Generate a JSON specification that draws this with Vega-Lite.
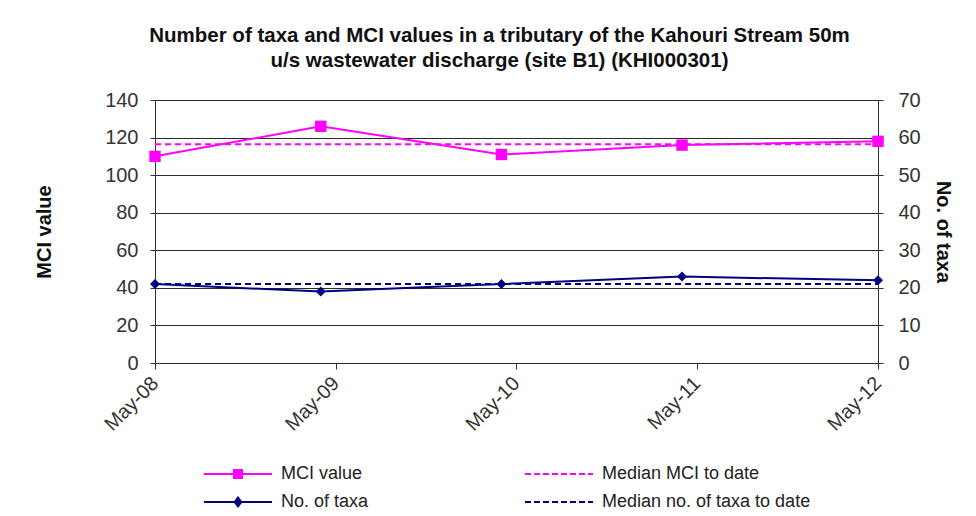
{
  "$schema": "https://vega.github.io/schema/vega-lite/v6.json",
  "autosize": "none",
  "width": 723,
  "height": 263,
  "padding": {"left": 155, "top": 100, "right": 98, "bottom": 153},
  "background": "white",
  "config": {
    "view": {"stroke": null},
    "font": "Liberation Sans",
    "axis": {"labelFont": "Liberation Sans", "titleFont": "Liberation Sans", "labelColor": "#333", "titleColor": "#111", "labelFontSize": 20, "titleFontSize": 20, "titleFontWeight": "bold", "tickColor": "#333", "domainColor": "#333", "tickSize": 5}
  },
  "title": {
    "text": ["Number of taxa and MCI values in a tributary of the Kahouri Stream 50m", "u/s wastewater discharge (site B1) (KHI000301)"],
    "font": "Liberation Sans",
    "fontSize": 20.5,
    "fontWeight": "bold",
    "color": "#111",
    "anchor": "middle",
    "dx": -17,
    "offset": 19,
    "lineHeight": 25
  },
  "data": {
    "values": [
      {"date": "2008/05/01", "series": "MCI value", "group": "MCI", "value": 110},
      {"date": "2009/04/01", "series": "MCI value", "group": "MCI", "value": 126},
      {"date": "2010/04/01", "series": "MCI value", "group": "MCI", "value": 111},
      {"date": "2011/04/01", "series": "MCI value", "group": "MCI", "value": 116},
      {"date": "2012/05/01", "series": "MCI value", "group": "MCI", "value": 118},
      {"date": "2008/05/01", "series": "Median MCI to date", "group": "MCI", "value": 116.5},
      {"date": "2009/04/01", "series": "Median MCI to date", "group": "MCI", "value": 116.5},
      {"date": "2010/04/01", "series": "Median MCI to date", "group": "MCI", "value": 116.5},
      {"date": "2011/04/01", "series": "Median MCI to date", "group": "MCI", "value": 116.5},
      {"date": "2012/05/01", "series": "Median MCI to date", "group": "MCI", "value": 116.5},
      {"date": "2008/05/01", "series": "No. of taxa", "group": "taxa", "value": 21},
      {"date": "2009/04/01", "series": "No. of taxa", "group": "taxa", "value": 19},
      {"date": "2010/04/01", "series": "No. of taxa", "group": "taxa", "value": 21},
      {"date": "2011/04/01", "series": "No. of taxa", "group": "taxa", "value": 23},
      {"date": "2012/05/01", "series": "No. of taxa", "group": "taxa", "value": 22},
      {"date": "2008/05/01", "series": "Median no. of taxa to date", "group": "taxa", "value": 21},
      {"date": "2009/04/01", "series": "Median no. of taxa to date", "group": "taxa", "value": 21},
      {"date": "2010/04/01", "series": "Median no. of taxa to date", "group": "taxa", "value": 21},
      {"date": "2011/04/01", "series": "Median no. of taxa to date", "group": "taxa", "value": 21},
      {"date": "2012/05/01", "series": "Median no. of taxa to date", "group": "taxa", "value": 21}
    ]
  },
  "encoding": {
    "x": {
      "field": "date",
      "type": "temporal",
      "scale": {"domain": [{"year": 2008, "month": 5, "date": 1}, {"year": 2012, "month": 5, "date": 1}]},
      "axis": {
        "title": null,
        "format": "%b-%y",
        "values": [{"year": 2008, "month": 5, "date": 1}, {"year": 2009, "month": 5, "date": 1}, {"year": 2010, "month": 5, "date": 1}, {"year": 2011, "month": 5, "date": 1}, {"year": 2012, "month": 5, "date": 1}],
        "labelAngle": -45,
        "labelAlign": "right",
        "labelBaseline": "middle",
        "labelPadding": 11,
        "tickSize": 6,
        "grid": false,
        "domain": false,
        "ticks": true
      }
    }
  },
  "layer": [
    {
      "transform": [{"filter": "datum.group == 'MCI'"}],
      "encoding": {
        "y": {
          "field": "value",
          "type": "quantitative",
          "scale": {"domain": [0, 140]},
          "axis": {"orient": "left", "title": "MCI value", "values": [0, 20, 40, 60, 80, 100, 120, 140], "grid": true, "gridColor": "#2a2a2a", "gridWidth": 1.2, "gridOpacity": 1, "titlePadding": 50, "labelPadding": 12}
        }
      },
      "layer": [
        {
          "transform": [{"filter": "datum.series == 'Median MCI to date'"}],
          "mark": {"type": "line", "strokeWidth": 2, "color": "#ff00ff", "strokeDash": [6, 4], "clip": false}
        },
        {
          "transform": [{"filter": "datum.series == 'MCI value'"}],
          "mark": {"type": "line", "strokeWidth": 2, "color": "#ff00ff", "clip": false}
        },
        {
          "transform": [{"filter": "datum.series == 'MCI value'"}],
          "mark": {"type": "point", "shape": "square", "filled": true, "size": 130, "color": "#ff00ff", "opacity": 1, "clip": false}
        },
        {
          "transform": [{"filter": "false"}],
          "mark": {"type": "point", "filled": false, "opacity": 1, "strokeWidth": 2},
          "encoding": {
            "color": {
              "field": "series",
              "type": "nominal",
              "scale": {"domain": ["MCI value", "Median MCI to date", "No. of taxa", "Median no. of taxa to date"], "range": ["#ff00ff", "#ff00ff", "#000080", "#000080"]},
              "legend": {
                "title": null,
                "orient": "none",
                "direction": "horizontal",
                "legendX": 74,
                "legendY": 365,
                "columns": 2,
                "columnPadding": 151,
                "rowPadding": 10,
                "symbolSize": 196,
                "symbolStrokeWidth": 2,
                "labelFontSize": 18,
                "labelLimit": 400,
                "labelFont": "Liberation Sans",
                "labelColor": "#222",
                "labelOffset": 34
              }
            },
            "strokeDash": {
              "field": "series",
              "type": "nominal",
              "scale": {"domain": ["MCI value", "Median MCI to date", "No. of taxa", "Median no. of taxa to date"], "range": [[1, 0], [6, 3], [1, 0], [6, 3]]},
              "legend": {
                "title": null,
                "orient": "none",
                "direction": "horizontal",
                "legendX": 74,
                "legendY": 365,
                "columns": 2,
                "columnPadding": 151,
                "rowPadding": 10,
                "symbolSize": 196,
                "symbolStrokeWidth": 2,
                "labelFontSize": 18,
                "labelLimit": 400,
                "labelFont": "Liberation Sans",
                "labelColor": "#222",
                "labelOffset": 34
              }
            },
            "shape": {
              "field": "series",
              "type": "nominal",
              "scale": {"domain": ["MCI value", "Median MCI to date", "No. of taxa", "Median no. of taxa to date"], "range": ["M-4.86,0H4.86M-0.57,-0.57H0.57V0.57H-0.57ZM-0.28,-0.28H0.28V0.28H-0.28Z", "M-4.86,0H4.86", "M-4.86,0H4.86M0,-0.62L0.48,0L0,0.62L-0.48,0ZM0,-0.3L0.24,0L0,0.3L-0.24,0Z", "M-4.86,0H4.86"]},
              "legend": {
                "title": null,
                "orient": "none",
                "direction": "horizontal",
                "legendX": 74,
                "legendY": 365,
                "columns": 2,
                "columnPadding": 151,
                "rowPadding": 10,
                "symbolSize": 196,
                "symbolStrokeWidth": 2,
                "labelFontSize": 18,
                "labelLimit": 400,
                "labelFont": "Liberation Sans",
                "labelColor": "#222",
                "labelOffset": 34
              }
            }
          }
        }
      ]
    },
    {
      "transform": [{"filter": "datum.group == 'taxa'"}],
      "encoding": {
        "y": {
          "field": "value",
          "type": "quantitative",
          "scale": {"domain": [0, 70]},
          "axis": {"orient": "right", "title": "No. of taxa", "values": [0, 10, 20, 30, 40, 50, 60, 70], "grid": false, "titlePadding": 12, "labelPadding": 15}
        }
      },
      "layer": [
        {
          "transform": [{"filter": "datum.series == 'Median no. of taxa to date'"}],
          "mark": {"type": "line", "strokeWidth": 2, "color": "#000080", "strokeDash": [6, 4], "clip": false}
        },
        {
          "transform": [{"filter": "datum.series == 'No. of taxa'"}],
          "mark": {"type": "line", "strokeWidth": 2, "color": "#000080", "clip": false}
        },
        {
          "transform": [{"filter": "datum.series == 'No. of taxa'"}],
          "mark": {"type": "point", "shape": "diamond", "filled": true, "size": 100, "color": "#000080", "opacity": 1, "clip": false}
        }
      ]
    }
  ],
  "resolve": {"scale": {"y": "independent"}}
}
